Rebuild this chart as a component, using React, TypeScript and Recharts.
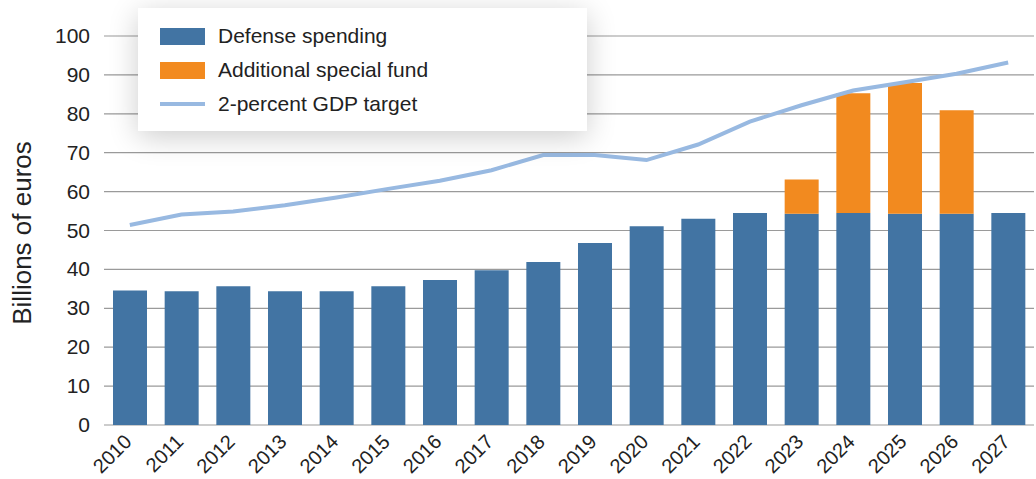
import { BarChart, Bar, Line, XAxis, YAxis, CartesianGrid } from 'recharts';

const years = ['2010', '2011', '2012', '2013', '2014', '2015', '2016', '2017', '2018',
  '2019', '2020', '2021', '2022', '2023', '2024', '2025', '2026', '2027'];
const defenseSpending = [34.6, 34.4, 35.7, 34.4, 34.4, 35.7, 37.3, 39.8, 41.9,
  46.8, 51.1, 53.0, 54.5, 54.3, 54.5, 54.3, 54.3, 54.5];
const specialFund = [0, 0, 0, 0, 0, 0, 0, 0, 0, 0, 0, 0, 0, 8.8, 30.8, 33.6, 26.6, 0];
const gdpTarget = [51.4, 54.1, 54.9, 56.5, 58.5, 60.7, 62.8, 65.5, 69.4,
  69.4, 68.1, 72.1, 78.0, 82.2, 86.0, 88.1, 90.3, 93.2];
const yTicks = [0, 10, 20, 30, 40, 50, 60, 70, 80, 90, 100];

const BLUE = '#4274a3';
const ORANGE = '#f28a1f';
const LIGHT_BLUE = '#98b9e1';
const FONT = '"Liberation Sans", Arial, Helvetica, sans-serif';

const data = years.map((year, i) => ({
  year,
  defense: defenseSpending[i],
  fund: specialFund[i],
  target: gdpTarget[i],
}));

const YearTick = ({ x, y, payload }: any) => (
  <text
    x={x + 3}
    y={y + 18}
    transform={`rotate(-45, ${x + 3}, ${y + 18})`}
    textAnchor="end"
    fontSize={20}
    fill="#222"
    fontFamily={FONT}
  >
    {payload.value}
  </text>
);

const ValueTick = ({ x, y, payload }: any) => (
  <text x={x} y={y} dy={7} textAnchor="end" fontSize={21} fill="#222" fontFamily={FONT}>
    {payload.value}
  </text>
);

const legendItems = [
  { label: 'Defense spending', color: BLUE, kind: 'box' },
  { label: 'Additional special fund', color: ORANGE, kind: 'box' },
  { label: '2-percent GDP target', color: LIGHT_BLUE, kind: 'line' },
];

export default function App() {
  return (
    <div style={{ position: 'absolute', left: 0, top: 0, width: 1036, height: 479, background: '#fff' }}>
      <BarChart
        width={1036}
        height={479}
        data={data}
        margin={{ top: 36, right: 2, bottom: 0, left: 0 }}
        barSize={34}
      >
        <CartesianGrid vertical={false} stroke="#9a9a9a" strokeWidth={1.2} />
        <XAxis
          dataKey="year"
          axisLine={false}
          tickLine={false}
          tickSize={0}
          tickMargin={0}
          interval={0}
          height={54}
          tick={<YearTick />}
        />
        <YAxis
          domain={[0, 100]}
          ticks={yTicks}
          interval={0}
          width={104}
          axisLine={false}
          tickLine={false}
          tickSize={0}
          tickMargin={14}
          tick={<ValueTick />}
          label={{
            content: () => (
              <text
                x={22}
                y={233}
                transform="rotate(-90, 22, 233)"
                textAnchor="middle"
                dominantBaseline="central"
                fontSize={26}
                fill="#222"
                fontFamily={FONT}
              >
                Billions of euros
              </text>
            ),
          }}
        />
        <Bar dataKey="defense" stackId="a" fill={BLUE} isAnimationActive={false} />
        <Bar dataKey="fund" stackId="a" fill={ORANGE} isAnimationActive={false} />
        <Line
          dataKey="target"
          type="linear"
          stroke={LIGHT_BLUE}
          strokeWidth={4}
          dot={false}
          activeDot={false}
          isAnimationActive={false}
        />
      </BarChart>
      <div
        style={{
          position: 'absolute',
          left: 138,
          top: 8,
          width: 449,
          height: 123,
          background: '#fff',
          boxShadow: '0 6px 28px rgba(0,0,0,0.2)',
          fontFamily: FONT,
          fontSize: 21,
          color: '#222',
        }}
      >
        {legendItems.map((item, i) => (
          <div key={item.label} style={{ position: 'absolute', left: 22, top: 28 + i * 34 - 14, height: 28, display: 'flex', alignItems: 'center' }}>
            <div
              style={{
                width: 45,
                height: item.kind === 'box' ? 17 : 4,
                background: item.color,
                flexShrink: 0,
              }}
            />
            <span style={{ marginLeft: 13, whiteSpace: 'nowrap' }}>{item.label}</span>
          </div>
        ))}
      </div>
    </div>
  );
}
